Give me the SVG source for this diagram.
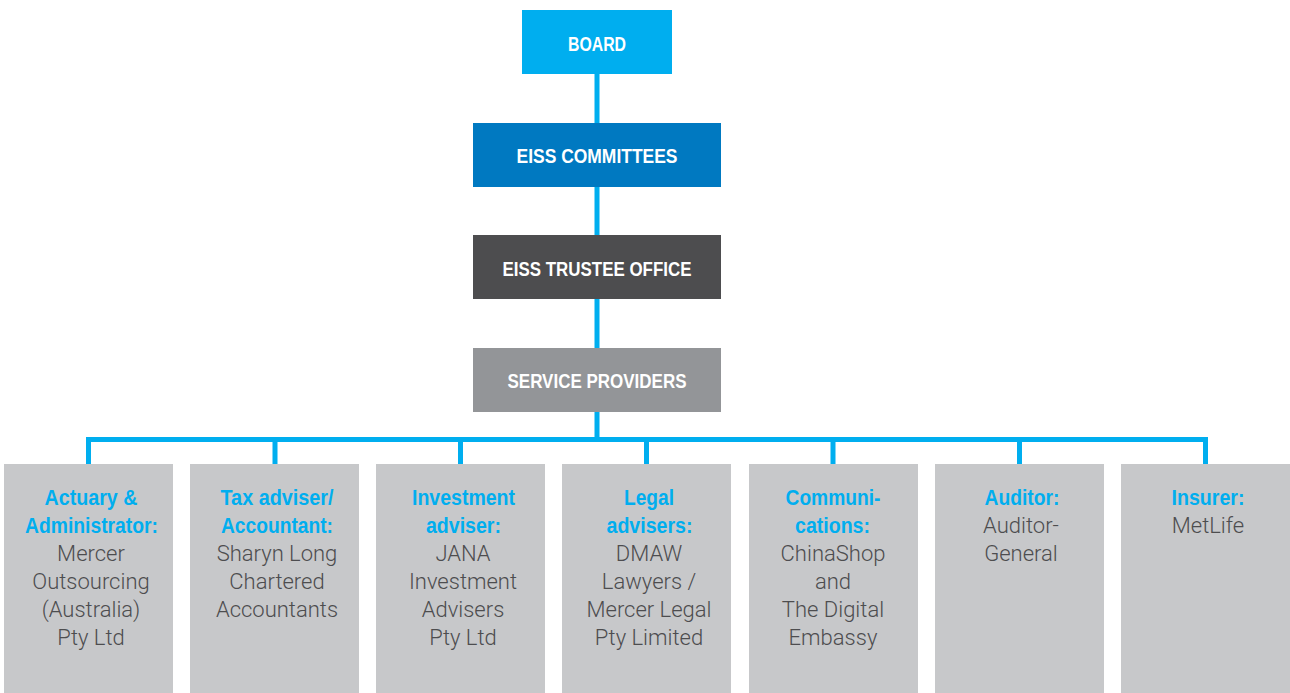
<svg xmlns="http://www.w3.org/2000/svg" width="1290" height="693" viewBox="0 0 1290 693">
  <style>
    .top { font-family: "Liberation Sans", Arial, sans-serif; font-weight: bold; font-size: 21px; fill: #ffffff; text-anchor: middle; }
    .head { font-family: "Liberation Sans", Arial, sans-serif; font-weight: bold; font-size: 22px; fill: #00aeef; text-anchor: middle; }
    .body { font-family: Roboto, "Liberation Sans", Arial, sans-serif; font-weight: 300; font-size: 22px; fill: #4d4d4f; text-anchor: middle; }
    .prov { fill: #c7c8ca; }
    .wire { fill: none; stroke: #00aeef; stroke-width: 5; }
  </style>

  <!-- connectors -->
  <g id="connectors">
    <path class="wire" d="M597,74 V439.5"/>
    <path class="wire" d="M88.5,464 V439.5 H1205.5 V464"/>
    <path class="wire" d="M275,439.5 V464 M460.5,439.5 V464 M646.5,439.5 V464 M833,439.5 V464 M1019.5,439.5 V464"/>
  </g>

  <!-- governance chain -->
  <g id="board">
    <rect x="522" y="10" width="150" height="64" fill="#00aeef"/>
    <text class="top" x="597" y="51" textLength="58" lengthAdjust="spacingAndGlyphs">BOARD</text>
  </g>
  <g id="committees">
    <rect x="473" y="123" width="248" height="64" fill="#0079c1"/>
    <text class="top" x="597" y="163" textLength="161" lengthAdjust="spacingAndGlyphs">EISS COMMITTEES</text>
  </g>
  <g id="trustee-office">
    <rect x="473" y="235" width="248" height="64" fill="#4d4d4f"/>
    <text class="top" x="597" y="276" textLength="189" lengthAdjust="spacingAndGlyphs">EISS TRUSTEE OFFICE</text>
  </g>
  <g id="service-providers">
    <rect x="473" y="348" width="248" height="64" fill="#939598"/>
    <text class="top" x="597" y="388" textLength="179" lengthAdjust="spacingAndGlyphs">SERVICE PROVIDERS</text>
  </g>

  <!-- providers -->
  <g id="actuary">
    <rect class="prov" x="4" y="464" width="169" height="229"/>
    <text class="head" x="91" y="505" textLength="93" lengthAdjust="spacingAndGlyphs">Actuary &amp;</text>
    <text class="head" x="91.5" y="533" textLength="133" lengthAdjust="spacingAndGlyphs">Administrator:</text>
    <text class="body" x="91" y="561">Mercer</text>
    <text class="body" x="91" y="589">Outsourcing</text>
    <text class="body" x="91" y="617">(Australia)</text>
    <text class="body" x="91" y="645">Pty Ltd</text>
  </g>
  <g id="tax-adviser">
    <rect class="prov" x="190" y="464" width="169" height="229"/>
    <text class="head" x="277" y="505" textLength="113" lengthAdjust="spacingAndGlyphs">Tax adviser/</text>
    <text class="head" x="277" y="533" textLength="112" lengthAdjust="spacingAndGlyphs">Accountant:</text>
    <text class="body" x="277" y="561">Sharyn Long</text>
    <text class="body" x="277" y="589">Chartered</text>
    <text class="body" x="277" y="617">Accountants</text>
  </g>
  <g id="investment-adviser">
    <rect class="prov" x="376" y="464" width="169" height="229"/>
    <text class="head" x="463.5" y="505" textLength="103" lengthAdjust="spacingAndGlyphs">Investment</text>
    <text class="head" x="463.5" y="533" textLength="75" lengthAdjust="spacingAndGlyphs">adviser:</text>
    <text class="body" x="463" y="561">JANA</text>
    <text class="body" x="463" y="589">Investment</text>
    <text class="body" x="463" y="617">Advisers</text>
    <text class="body" x="463" y="645">Pty Ltd</text>
  </g>
  <g id="legal-advisers">
    <rect class="prov" x="562" y="464" width="169" height="229"/>
    <text class="head" x="649" y="505" textLength="50" lengthAdjust="spacingAndGlyphs">Legal</text>
    <text class="head" x="649.5" y="533" textLength="86" lengthAdjust="spacingAndGlyphs">advisers:</text>
    <text class="body" x="649" y="561">DMAW</text>
    <text class="body" x="649" y="589">Lawyers /</text>
    <text class="body" x="649" y="617">Mercer Legal</text>
    <text class="body" x="649" y="645">Pty Limited</text>
  </g>
  <g id="communications">
    <rect class="prov" x="749" y="464" width="169" height="229"/>
    <text class="head" x="833" y="505" textLength="95" lengthAdjust="spacingAndGlyphs">Communi-</text>
    <text class="head" x="832.5" y="533" textLength="75" lengthAdjust="spacingAndGlyphs">cations:</text>
    <text class="body" x="833" y="561">ChinaShop</text>
    <text class="body" x="833" y="589">and</text>
    <text class="body" x="833" y="617">The Digital</text>
    <text class="body" x="833" y="645">Embassy</text>
  </g>
  <g id="auditor">
    <rect class="prov" x="935" y="464" width="169" height="229"/>
    <text class="head" x="1022" y="505" textLength="75" lengthAdjust="spacingAndGlyphs">Auditor:</text>
    <text class="body" x="1021" y="533">Auditor-</text>
    <text class="body" x="1021" y="561">General</text>
  </g>
  <g id="insurer">
    <rect class="prov" x="1121" y="464" width="169" height="229"/>
    <text class="head" x="1208" y="505" textLength="73" lengthAdjust="spacingAndGlyphs">Insurer:</text>
    <text class="body" x="1208" y="533">MetLife</text>
  </g>
</svg>
